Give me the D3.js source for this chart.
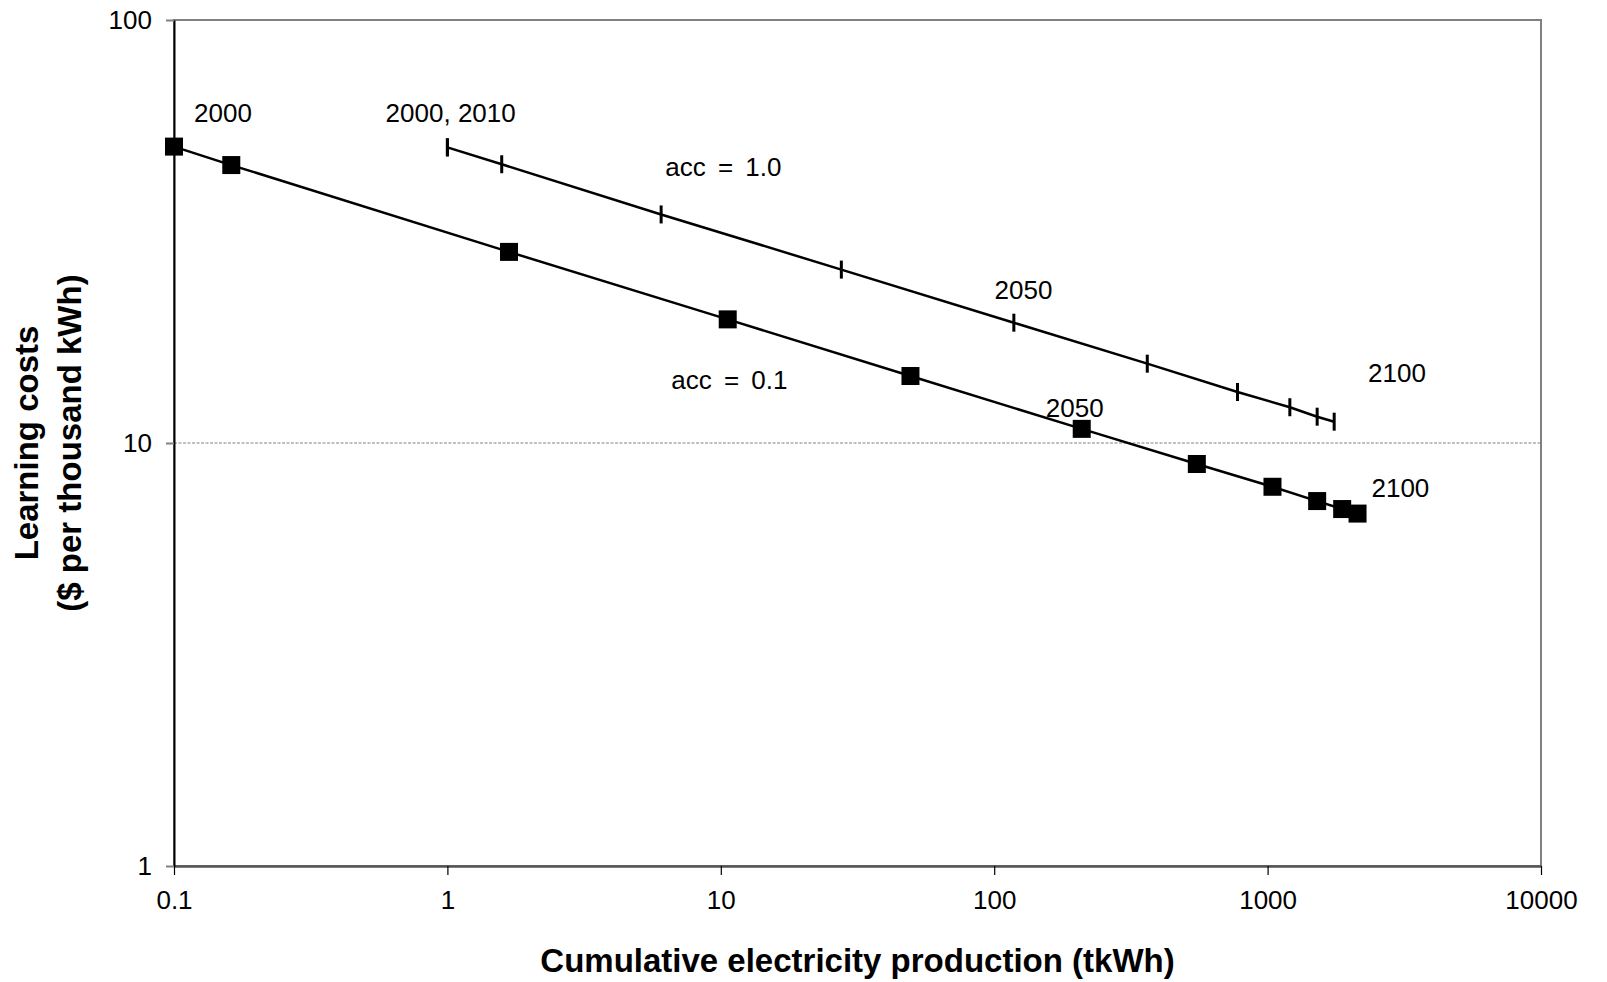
<!DOCTYPE html>
<html>
<head>
<meta charset="utf-8">
<script src="https://cdn.jsdelivr.net/npm/d3@7"></script>
<style>
  body { margin: 0; background: #fff; }
  text { font-family: Arial, "Liberation Sans", sans-serif; fill: #000; }
</style>
</head>
<body>
<div id="chart"></div>
<script>
// Chart values
const years = [2000, 2010, 2020, 2030, 2040, 2050, 2060, 2070, 2080, 2090, 2100];

// acc = 0.1 (squares)
const lowX = [0.1, 0.162, 1.68, 10.6, 49.4, 209, 551, 1042, 1518, 1874, 2133];
const lowY = [50.2, 45.4, 28.3, 19.6, 14.4, 10.8, 8.92, 7.88, 7.29, 6.98, 6.81];

// acc = 1.0 (dashes)
const highX = [1.0, 1.0, 1.58, 6.05, 27.6, 118, 363, 776, 1206, 1518, 1752];
const highY = [50, 50, 45.6, 34.7, 25.7, 19.25, 15.4, 13.2, 12.15, 11.54, 11.23];

// annotations, anchored in data space
const labelText = ["2000", "2000, 2010", "acc = 1.0", "2050", "acc = 0.1", "2050", "2100", "2100"];
const labelX = [0.151, 1.028, 10.22, 128, 10.75, 197, 2972, 3060];
const labelY = [57.5, 57.5, 42.85, 21.9, 13.4, 11.5, 13.96, 7.46];

const xTicks = [0.1, 1, 10, 100, 1000, 10000];
const xTickLabels = ["0.1", "1", "10", "100", "1000", "10000"];
const yTicks = [1, 10, 100];
const yTickLabels = ["1", "10", "100"];

const width = 1607;
const height = 982;
const margin = {top: 20, right: 66, bottom: 116, left: 174};

const svg = d3.select('#chart').append('svg')
    .attr('width', width)
    .attr('height', height);

const x = d3.scaleLog().domain([0.1, 10000]).range([margin.left, width - margin.right]);
const y = d3.scaleLog().domain([1, 100]).range([height - margin.bottom, margin.top]);

// plot border (grey, like the spreadsheet frame)
svg.append('rect')
    .attr('x', x(0.1))
    .attr('y', y(100))
    .attr('width', x(10000) - x(0.1))
    .attr('height', y(1) - y(100))
    .attr('fill', 'none')
    .attr('stroke', '#808080')
    .attr('stroke-width', 2);

// dotted gridline at 10
svg.append('line')
    .attr('x1', x(0.1)).attr('x2', x(10000))
    .attr('y1', y(10)).attr('y2', y(10))
    .attr('stroke', '#808080')
    .attr('stroke-width', 1)
    .attr('stroke-dasharray', '3,1.5');

// x axis
const xAxis = svg.append('g')
    .attr('transform', `translate(0,${y(1)})`)
    .call(d3.axisBottom(x)
        .tickValues(xTicks)
        .tickFormat((d, i) => xTickLabels[i])
        .tickSize(9)
        .tickSizeOuter(0)
        .tickPadding(16));
xAxis.select('.domain').attr('stroke', '#555').attr('stroke-width', 2.5);
xAxis.selectAll('.tick line').attr('stroke', '#000').attr('stroke-width', 1.2);
xAxis.selectAll('.tick text')
    .attr('font-size', 26)
    .attr('font-family', 'Arial, "Liberation Sans", sans-serif');

// y axis
const yAxis = svg.append('g')
    .attr('transform', `translate(${x(0.1)},0)`)
    .call(d3.axisLeft(y)
        .tickValues(yTicks)
        .tickFormat((d, i) => yTickLabels[i])
        .tickSize(8)
        .tickSizeOuter(0)
        .tickPadding(14));
yAxis.select('.domain').attr('stroke', '#000').attr('stroke-width', 2);
yAxis.selectAll('.tick line').attr('stroke', '#808080').attr('stroke-width', 2);
yAxis.selectAll('.tick text')
    .attr('font-size', 26)
    .attr('font-family', 'Arial, "Liberation Sans", sans-serif');

// axis titles
svg.append('text')
    .attr('x', (x(0.1) + x(10000)) / 2)
    .attr('y', 972)
    .attr('text-anchor', 'middle')
    .attr('font-size', 33)
    .attr('font-weight', 'bold')
    .text('Cumulative electricity production (tkWh)');

const yTitle = svg.append('text')
    .attr('transform', `translate(0,${(y(1) + y(100)) / 2}) rotate(-90)`)
    .attr('text-anchor', 'middle')
    .attr('font-size', 33)
    .attr('font-weight', 'bold');
yTitle.append('tspan').attr('x', 0).attr('y', 38).text('Learning costs');
yTitle.append('tspan').attr('x', 0).attr('y', 81).text('($ per thousand kWh)');

const lineGen = d3.line()
    .x(d => x(d[0]))
    .y(d => y(d[1]));

const lowPts = lowX.map((v, i) => [v, lowY[i]]);
const highPts = highX.map((v, i) => [v, highY[i]]);

// acc = 1.0 line with dash markers
svg.append('path')
    .datum(highPts)
    .attr('d', lineGen)
    .attr('fill', 'none')
    .attr('stroke', '#000')
    .attr('stroke-width', 2.5);

svg.selectAll('.dash')
    .data(highPts)
    .join('line')
    .attr('class', 'dash')
    .attr('x1', d => x(d[0])).attr('x2', d => x(d[0]))
    .attr('y1', d => y(d[1]) - 9).attr('y2', d => y(d[1]) + 9)
    .attr('stroke', '#000')
    .attr('stroke-width', 3);

// acc = 0.1 line with squares
svg.append('path')
    .datum(lowPts)
    .attr('d', lineGen)
    .attr('fill', 'none')
    .attr('stroke', '#000')
    .attr('stroke-width', 2.5);

const sq = 18;
svg.selectAll('.sq')
    .data(lowPts)
    .join('rect')
    .attr('class', 'sq')
    .attr('x', d => x(d[0]) - sq / 2)
    .attr('y', d => y(d[1]) - sq / 2)
    .attr('width', sq)
    .attr('height', sq)
    .attr('fill', '#000');

// annotations
svg.selectAll('.lbl')
    .data(labelText)
    .join('text')
    .attr('class', 'lbl')
    .attr('x', (d, i) => x(labelX[i]))
    .attr('y', (d, i) => y(labelY[i]))
    .attr('text-anchor', 'middle')
    .attr('font-size', 26)
    .attr('word-spacing', d => d.startsWith('acc') ? 5 : 0)
    .text(d => d);
</script>
</body>
</html>
